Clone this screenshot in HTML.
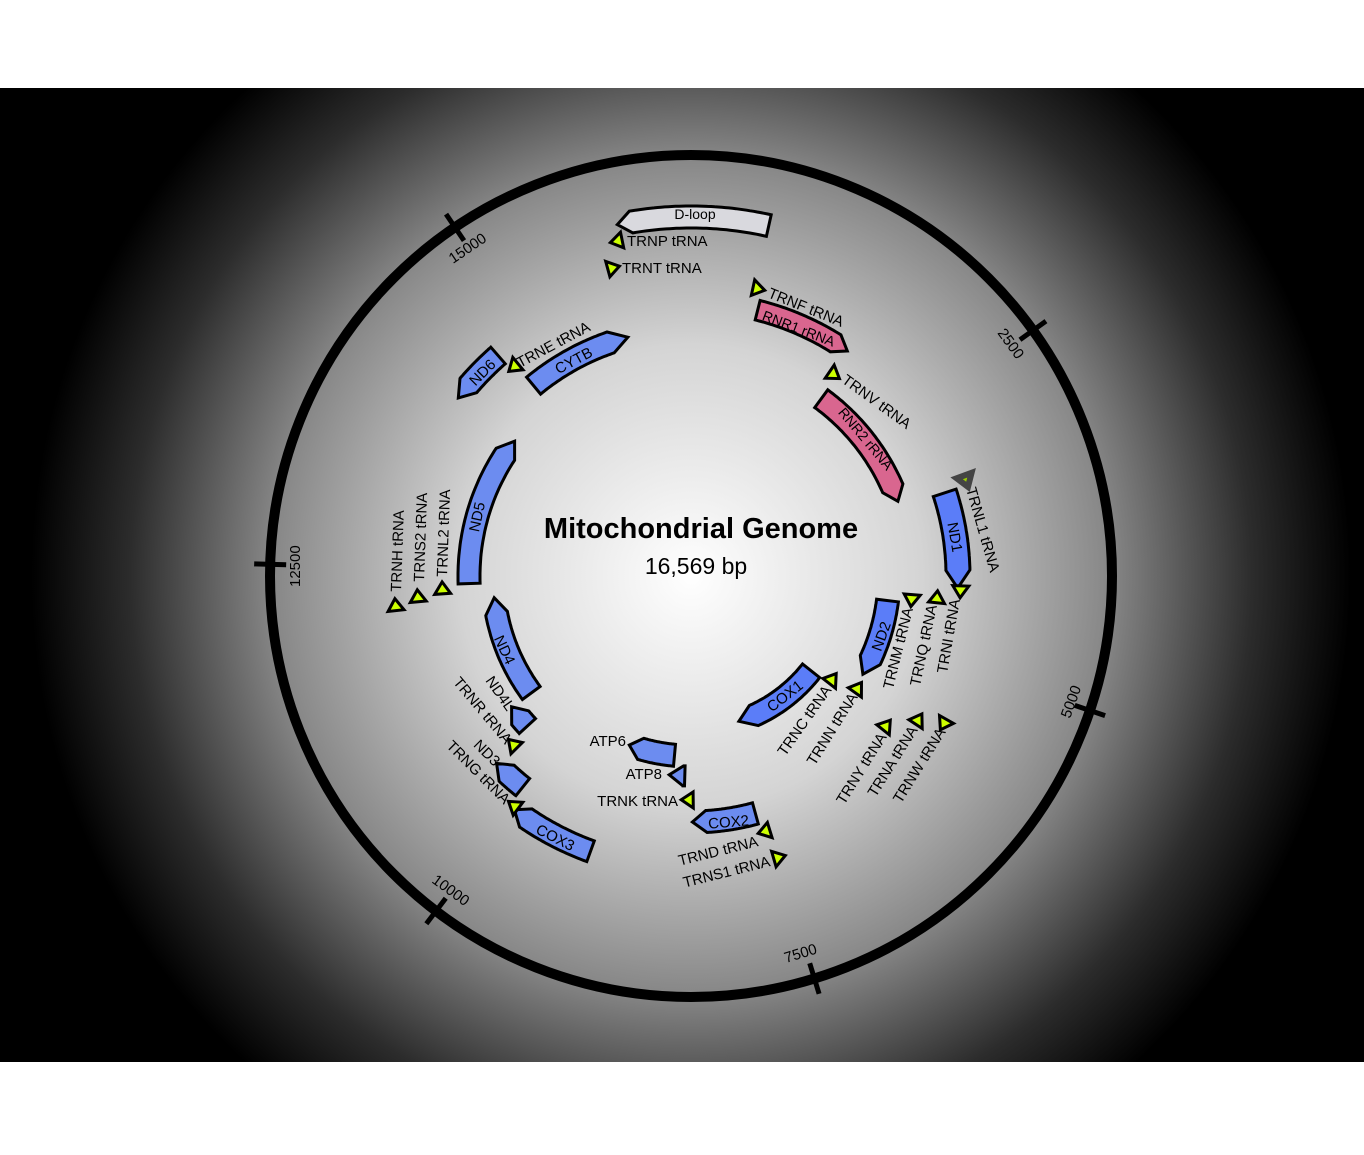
<!DOCTYPE html>
<html><head><meta charset="utf-8"><style>
html,body{margin:0;padding:0;background:#fff;}
svg{display:block;}
text{font-family:"Liberation Sans",sans-serif;fill:#000;}
</style></head><body>
<svg id="s" width="1364" height="1155" viewBox="0 0 1364 1155" xmlns="http://www.w3.org/2000/svg">
<defs>
<radialGradient id="bg" gradientUnits="userSpaceOnUse" cx="691" cy="576" r="660">
<stop offset="0" stop-color="#ffffff"/>
<stop offset="0.35" stop-color="#d4d4d4"/>
<stop offset="0.64" stop-color="#858585"/>
<stop offset="0.85" stop-color="#2c2c2c"/>
<stop offset="1" stop-color="#000000"/>
</radialGradient>
</defs>
<rect x="0" y="0" width="1364" height="1155" fill="#fff"/>
<rect x="0" y="88" width="1364" height="974" fill="url(#bg)"/>
<circle cx="691" cy="576" r="421" fill="none" stroke="#000" stroke-width="10"/>
<g id="ticks" stroke="#000" stroke-width="5"></g>
<g id="shapes"></g>
<g font-size="15">
<text x="695" y="219" text-anchor="middle" font-size="14">D-loop</text>
<text x="627" y="246">TRNP tRNA</text>
<text x="622" y="273">TRNT tRNA</text>
<text transform="translate(767,297) rotate(22)">TRNF tRNA</text>
<text transform="translate(797,333) rotate(21)" text-anchor="middle" font-size="14">RNR1 rRNA</text>
<text transform="translate(841,382) rotate(36)">TRNV tRNA</text>
<text transform="translate(862,442) rotate(50)" text-anchor="middle" font-size="14">RNR2 rRNA</text>
<text transform="translate(966,489) rotate(74)">TRNL1 tRNA</text>
<text transform="translate(950,538) rotate(80)" text-anchor="middle">ND1</text>
<text transform="translate(960,600) rotate(-80)" text-anchor="end">TRNI tRNA</text>
<text transform="translate(937,606) rotate(-78)" text-anchor="end">TRNQ tRNA</text>
<text transform="translate(913,609) rotate(-76)" text-anchor="end">TRNM tRNA</text>
<text transform="translate(886,638) rotate(-70)" text-anchor="middle">ND2</text>
<text transform="translate(858,697) rotate(-58)" text-anchor="end">TRNN tRNA</text>
<text transform="translate(832,690) rotate(-55)" text-anchor="end">TRNC tRNA</text>
<text transform="translate(788,700) rotate(-38)" text-anchor="middle">COX1</text>
<text transform="translate(887,737) rotate(-58)" text-anchor="end">TRNY tRNA</text>
<text transform="translate(918,730) rotate(-58)" text-anchor="end">TRNA tRNA</text>
<text transform="translate(946,732) rotate(-58)" text-anchor="end">TRNW tRNA</text>
<text transform="translate(759,846) rotate(-14)" text-anchor="end">TRND tRNA</text>
<text transform="translate(771,866) rotate(-14)" text-anchor="end">TRNS1 tRNA</text>
<text transform="translate(729,827) rotate(-5)" text-anchor="middle">COX2</text>
<text x="678" y="806" text-anchor="end">TRNK tRNA</text>
<text x="662" y="779" text-anchor="end">ATP8</text>
<text x="626" y="746" text-anchor="end">ATP6</text>
<text transform="translate(553,842) rotate(27)" text-anchor="middle">COX3</text>
<text transform="translate(504,805) rotate(45)" text-anchor="end">TRNG tRNA</text>
<text transform="translate(494,767) rotate(45)" text-anchor="end">ND3</text>
<text transform="translate(505,745) rotate(50)" text-anchor="end">TRNR tRNA</text>
<text transform="translate(507,712) rotate(55)" text-anchor="end">ND4L</text>
<text transform="translate(500,652) rotate(65)" text-anchor="middle">ND4</text>
<text transform="translate(401,592) rotate(-88)">TRNH tRNA</text>
<text transform="translate(424,582) rotate(-88)">TRNS2 tRNA</text>
<text transform="translate(447,577) rotate(-88)">TRNL2 tRNA</text>
<text transform="translate(482,518) rotate(-78)" text-anchor="middle">ND5</text>
<text transform="translate(486,376) rotate(-45)" text-anchor="middle">ND6</text>
<text transform="translate(520,368) rotate(-28)">TRNE tRNA</text>
<text transform="translate(576,365) rotate(-28)" text-anchor="middle">CYTB</text>
</g>
<g font-size="15">
<text transform="translate(453,264) rotate(-34)">15000</text>
<text transform="translate(997,333) rotate(54)">2500</text>
<text transform="translate(300,587) rotate(-90)">12500</text>
<text transform="translate(1070,719) rotate(-70)">5000</text>
<text transform="translate(431,882) rotate(36)">10000</text>
<text transform="translate(786,963) rotate(-17)">7500</text>
</g>
<text x="701" y="538" text-anchor="middle" font-size="29" font-weight="bold">Mitochondrial Genome</text>
<text x="696" y="574" text-anchor="middle" font-size="23">16,569 bp</text>
</svg>
<script>
(function(){
var cx=691,cy=576,L=16569,NS="http://www.w3.org/2000/svg";
function pt(a,r){var t=a*Math.PI/180;return [cx+r*Math.sin(t),cy-r*Math.cos(t)];}
function ang(b){return b/L*360;}
var g=document.getElementById('shapes');
function add(pts,fill,stroke,sw){var p=document.createElementNS(NS,'polygon');
p.setAttribute('points',pts.map(function(q){return q[0].toFixed(1)+','+q[1].toFixed(1);}).join(' '));
p.setAttribute('fill',fill);p.setAttribute('stroke',stroke||'#000');p.setAttribute('stroke-width',sw||3);p.setAttribute('stroke-linejoin','miter');g.appendChild(p);}
function gene(s,e,r,fill,cw,w,hl){w=w||22;hl=hl||16;var a1=ang(s),a2=ang(e);if(a2<a1)a2+=360;
var h=hl/r*180/Math.PI;if(h>(a2-a1))h=(a2-a1);var ro=r+w/2,ri=r-w/2,P=[],n=40,i,a;
if(cw){var b=a2-h;for(i=0;i<=n;i++){a=a1+(b-a1)*i/n;P.push(pt(a,ro));}P.push(pt(a2,r));for(i=n;i>=0;i--){a=a1+(b-a1)*i/n;P.push(pt(a,ri));}}
else{var b2=a1+h;P.push(pt(a1,r));for(i=0;i<=n;i++){a=b2+(a2-b2)*i/n;P.push(pt(a,ro));}for(i=n;i>=0;i--){a=b2+(a2-b2)*i/n;P.push(pt(a,ri));}}
add(P,fill);}
function trna(s,e,r,cw,dark){var a=ang((s+e)/2),d=6/r*180/Math.PI,P;
if(cw)P=[pt(a-d,r+8),pt(a+d,r),pt(a-d,r-8)];else P=[pt(a+d,r+8),pt(a-d,r),pt(a+d,r-8)];
if(dark)add(P,'#99cc00','#444',6);else add(P,'#ccff00','#000',3);}
var tg=document.getElementById('ticks');
[2500,5000,7500,10000,12500,15000].forEach(function(b){var a=ang(b),p1=pt(a,405),p2=pt(a,437);
var l=document.createElementNS(NS,'line');l.setAttribute('x1',p1[0]);l.setAttribute('y1',p1[1]);l.setAttribute('x2',p2[0]);l.setAttribute('y2',p2[1]);tg.appendChild(l);});
var B='#6c8cf0',B2='#5b7df8',P='#d9668f';
gene(16024,576,359,'#d9d9de',false,22,14);
gene(648,1601,274,P,true,20,14);
gene(1671,3229,220,P,true,22,14);
gene(3307,4262,267,B2,true,24,18);
gene(4470,5511,198,B2,true,22,16);
gene(5904,7445,153,B2,true,22,16);
gene(7586,8269,246,B,true,22,14);
gene(8366,8572,200,B,true,20,14);
gene(8527,9207,180,B,true,22,12);
gene(9207,9990,293,B,true,22,14);
gene(10059,10404,270,B,true,22,14);
gene(10470,10766,222,B,true,22,14);
gene(10760,12137,198,B,true,22,16);
gene(12337,14148,222,B,true,22,16);
gene(14149,14673,293,B,false,22,16);
gene(14747,15887,247,B,true,22,18);
trna(15956,16023,343,false);trna(15888,15953,318,true);trna(577,647,295,true);trna(1602,1670,247,true);
trna(3230,3304,291,true,true);trna(4263,4331,270,true);trna(4329,4400,247,false);trna(4402,4469,222,true);
trna(5512,5579,293,true);trna(5587,5655,269,false);trna(5657,5729,201,false);trna(5761,5826,175,false);
trna(5826,5891,246,false);trna(7446,7514,295,false);trna(7518,7585,266,true);trna(8295,8364,224,true);
trna(9991,10058,290,true);trna(10405,10469,245,true);trna(12138,12206,297,true);trna(12207,12265,274,true);
trna(12266,12336,249,true);trna(14674,14742,274,false);
})();
</script>
</body></html>
